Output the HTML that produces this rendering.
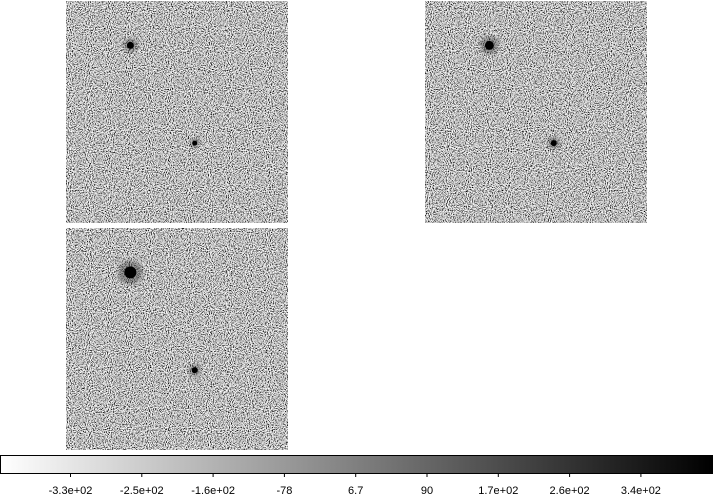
<!DOCTYPE html>
<html><head><meta charset="utf-8"><style>
body{margin:0;background:#fff;width:714px;height:499px;overflow:hidden;font-family:"Liberation Sans","DejaVu Sans",sans-serif}
</style></head><body>
<svg id="fig" width="714" height="499" xmlns="http://www.w3.org/2000/svg">
<defs>
<filter id="noise" x="0" y="0" width="100%" height="100%">
<feTurbulence type="fractalNoise" baseFrequency="0.95" numOctaves="2" seed="3"/>
<feColorMatrix type="matrix" values="3 0 0 0 -0.95  3 0 0 0 -0.95  3 0 0 0 -0.95  0 0 0 0 1"/>
</filter>
<filter id="blur"><feGaussianBlur stdDeviation="2"/></filter>
<linearGradient id="cmap" x1="0" x2="1" y1="0" y2="0"><stop offset="0" stop-color="#fff"/><stop offset="1" stop-color="#000"/></linearGradient>
</defs>
<g id="panels"></g>
<rect x="0.5" y="455.5" width="712" height="18" fill="url(#cmap)" stroke="#000" stroke-width="1"/>
<g id="cbticks"></g>
</svg>
<script>
const panelX=[66,425,66];
const panelY=[1,1,228];
const panelSize=222;
// sources: relative positions within panel (fraction), radius
const srcPanel=[0,0,1,1,2,2];
const srcFx=[0.29,0.58,0.29,0.58,0.29,0.58];
const srcFy=[0.20,0.64,0.20,0.64,0.20,0.64];
const srcR=[3.5,2.5,4.5,3,6,3];
const cbLabels=["-3.3e+02","-2.5e+02","-1.6e+02","-78","6.7","90","1.7e+02","2.6e+02","3.4e+02"];
const cbTickX=i=>70.5+i*71.3;
const NS="http://www.w3.org/2000/svg";
const pg=document.getElementById('panels');
for(let p=0;p<panelX.length;p++){
  const r=document.createElementNS(NS,'rect');
  r.setAttribute('x',panelX[p]);r.setAttribute('y',panelY[p]);
  r.setAttribute('width',panelSize);r.setAttribute('height',panelSize);
  r.setAttribute('filter','url(#noise)');r.setAttribute('fill','#888');
  
  
  pg.appendChild(r);
}
for(let i=0;i<srcPanel.length;i++){
  const p=srcPanel[i];
  const cx=panelX[p]+srcFx[i]*panelSize, cy=panelY[p]+srcFy[i]*panelSize;
  const h=document.createElementNS(NS,'circle');
  h.setAttribute('cx',cx);h.setAttribute('cy',cy);h.setAttribute('r',srcR[i]*2);
  h.setAttribute('fill','#333');h.setAttribute('opacity','0.45');h.setAttribute('filter','url(#blur)');
  
  
  pg.appendChild(h);
  const c=document.createElementNS(NS,'circle');
  c.setAttribute('cx',cx);c.setAttribute('cy',cy);c.setAttribute('r',srcR[i]);c.setAttribute('fill','#000');
  
  
  pg.appendChild(c);
}
const tg=document.getElementById('cbticks');
cbLabels.forEach((l,i)=>{
  const x=cbTickX(i);
  const t=document.createElementNS(NS,'line');
  t.setAttribute('x1',x);t.setAttribute('x2',x);t.setAttribute('y1',473);t.setAttribute('y2',477);
  t.setAttribute('stroke','#000');
  
  
  tg.appendChild(t);
  const tx=document.createElementNS(NS,'text');
  tx.setAttribute('x',x);tx.setAttribute('y',494);tx.setAttribute('text-anchor','middle');
  tx.setAttribute('font-size','11');tx.textContent=l;
  
  
  tg.appendChild(tx);
});
</script>
</body></html>
